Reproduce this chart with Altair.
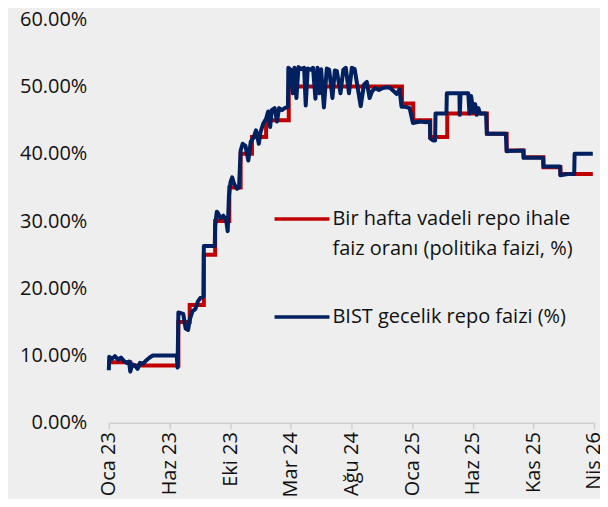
import altair as alt
import pandas as pd

MONTHS_TR = ["Oca", "Şub", "Mar", "Nis", "May", "Haz", "Tem", "Ağu", "Eyl", "Eki", "Kas", "Ara"]

POLICY_DATES = ["2023-01-02", "2023-02-24", "2023-06-23", "2023-07-21", "2023-08-25", "2023-09-22",
                "2023-10-27", "2023-11-24", "2023-12-22", "2024-01-26", "2024-03-22", "2024-12-27",
                "2025-01-24", "2025-03-07", "2025-04-18", "2025-07-25", "2025-09-12", "2025-10-24",
                "2025-12-12", "2026-01-23", "2026-04-13"]
POLICY_RATES = [9.0, 8.5, 15.0, 17.5, 25.0, 30.0, 35.0, 40.0, 42.5, 45.0, 50.0, 47.5,
                45.0, 42.5, 46.0, 43.0, 40.5, 39.5, 38.0, 37.0, 37.0]

BIST_DATES = [
    "2023-01-02", "2023-01-03", "2023-01-10", "2023-01-17", "2023-01-25", "2023-02-01", "2023-02-08",
    "2023-02-15", "2023-02-21", "2023-02-24", "2023-03-01", "2023-03-08", "2023-03-14", "2023-03-20",
    "2023-03-28", "2023-04-05", "2023-04-13", "2023-04-21", "2023-06-19", "2023-06-21", "2023-06-23",
    "2023-07-05", "2023-07-11", "2023-07-17", "2023-07-21", "2023-07-28", "2023-08-04", "2023-08-10",
    "2023-08-17", "2023-08-24", "2023-08-25", "2023-09-21", "2023-09-22", "2023-09-26", "2023-09-29",
    "2023-10-05", "2023-10-12", "2023-10-19", "2023-10-23", "2023-10-26", "2023-10-30", "2023-11-03",
    "2023-11-08", "2023-11-15", "2023-11-20", "2023-11-24", "2023-11-29", "2023-12-06", "2023-12-13",
    "2023-12-19", "2023-12-26", "2024-01-01", "2024-01-08", "2024-01-12", "2024-01-19", "2024-01-26",
    "2024-01-31", "2024-02-05", "2024-02-09", "2024-02-16", "2024-02-22", "2024-02-27", "2024-03-05",
    "2024-03-12", "2024-03-20", "2024-03-21", "2024-03-27", "2024-04-01", "2024-04-05", "2024-04-10",
    "2024-04-15", "2024-04-22", "2024-04-29", "2024-05-03", "2024-05-08", "2024-05-15", "2024-05-21",
    "2024-05-27", "2024-06-01", "2024-06-06", "2024-06-10", "2024-06-17", "2024-06-24", "2024-06-30",
    "2024-07-08", "2024-07-14", "2024-07-19", "2024-07-28", "2024-08-04", "2024-08-10", "2024-08-18",
    "2024-08-25", "2024-09-01", "2024-09-08", "2024-09-16", "2024-09-24", "2024-10-01", "2024-10-08",
    "2024-10-14", "2024-10-22", "2024-10-31", "2024-11-10", "2024-11-20", "2024-11-28", "2024-12-05",
    "2024-12-14", "2024-12-21", "2024-12-26", "2025-01-05", "2025-01-15", "2025-01-23", "2025-02-10",
    "2025-02-25", "2025-03-06", "2025-03-07", "2025-03-14", "2025-03-19", "2025-03-20", "2025-04-16",
    "2025-04-17", "2025-05-18", "2025-05-19", "2025-05-21", "2025-06-09", "2025-06-12", "2025-06-16",
    "2025-06-22", "2025-06-26", "2025-06-30", "2025-07-04", "2025-07-08", "2025-07-23", "2025-07-25",
    "2025-09-10", "2025-09-12", "2025-10-23", "2025-10-24", "2025-12-11", "2025-12-12", "2026-01-22",
    "2026-01-23", "2026-02-10", "2026-02-26", "2026-02-27", "2026-04-13"]
BIST_RATES = [
    7.8, 9.8, 9.5, 9.9, 9.4, 9.7, 9.2,
    8.9, 9.1, 7.6, 8.7, 8.5, 8.0, 8.9,
    8.8, 9.3, 9.7, 10.0, 10.0, 8.2, 16.4,
    16.2, 14.0, 13.8, 15.3, 16.6, 16.9, 18.0,
    18.6, 18.8, 26.3, 26.3, 29.3, 31.4, 31.2,
    30.4, 30.8, 30.2, 28.5, 33.7, 35.8, 36.5,
    35.5, 34.8, 35.0, 40.5, 41.5, 41.2, 39.0,
    41.8, 42.4, 43.5, 41.5, 43.2, 44.5, 45.2,
    46.3, 44.0, 46.5, 46.8, 44.8, 46.8, 46.5,
    46.8, 47.0, 52.8, 52.5, 49.0, 52.8, 48.3,
    52.9, 52.6, 52.8, 47.2, 52.7, 52.5, 52.8,
    48.2, 52.8, 49.0, 52.6, 46.9, 52.7, 52.5,
    48.3, 52.4, 52.3, 49.0, 52.5, 52.8, 49.0,
    52.8, 52.6, 50.0, 47.1, 50.3, 50.7, 48.3,
    49.3, 49.8, 49.5, 49.8, 49.9, 49.8, 49.4,
    48.9, 49.6, 47.0, 47.0, 46.8, 44.6, 44.8,
    44.7, 44.8, 42.3, 42.0, 42.0, 46.0, 46.0,
    49.0, 49.0, 45.8, 49.0, 49.0, 46.0, 48.6,
    46.2, 47.4, 45.8, 46.8, 46.0, 46.0, 43.0,
    43.0, 40.4, 40.5, 39.4, 39.4, 38.1, 38.1,
    36.8, 37.0, 37.0, 40.0, 40.0]

X_TICK_DATES = ["2023-01-02", "2023-06-01", "2023-10-29", "2024-03-27", "2024-08-24",
                "2025-01-21", "2025-06-20", "2025-11-17", "2026-04-16"]
X_DOMAIN = ["2023-01-02", "2026-04-16"]
Y_TICKS = [0, 10, 20, 30, 40, 50, 60]

LEGEND_POLICY = ["Bir hafta vadeli repo ihale", "faiz oranı (politika faizi, %)"]
LEGEND_BIST = "BIST gecelik repo faizi (%)"

RED = "#c00000"
BLUE = "#002060"
FONT = "Open Sans"
FS = 20


def dt(s):
    y, m, d = (int(v) for v in s.split("-"))
    return alt.DateTime(year=y, month=m, date=d, utc=True)


policy_df = pd.DataFrame({"date": POLICY_DATES, "rate": POLICY_RATES})
bist_df = pd.DataFrame({"date": BIST_DATES, "rate": BIST_RATES})

months_js = "[" + ",".join("'" + m + "'" for m in MONTHS_TR) + "]"
x_axis = alt.Axis(
    values=[dt(s) for s in X_TICK_DATES],
    labelExpr=months_js + "[utcmonth(datum.value)] + ' ' + utcFormat(datum.value, '%y')",
    labelAngle=-90, labelFont=FONT, labelFontSize=FS, labelColor="#111111",
    domainColor="#d0d0d0", domainWidth=1.5, tickColor="#d0d0d0", tickWidth=1.5, tickSize=6,
    labelPadding=3, grid=False, title=None, labelOverlap=False, labelFlush=False,
)
y_axis = alt.Axis(
    values=Y_TICKS, labelExpr="format(datum.value / 100, '.2%')",
    labelFont=FONT, labelFontSize=FS, labelColor="#111111", labelPadding=22,
    domain=False, ticks=False, grid=False, title=None,
)
x_enc = alt.X("date:T", scale=alt.Scale(type="utc", domain=[dt(s) for s in X_DOMAIN]), axis=x_axis)
y_enc = alt.Y("rate:Q", scale=alt.Scale(domain=[0, 60], nice=False), axis=y_axis)

red_line = alt.Chart(policy_df).mark_line(color=RED, strokeWidth=4, interpolate="step-after").encode(x=x_enc, y=y_enc)
blue_line = alt.Chart(bist_df).mark_line(color=BLUE, strokeWidth=4, strokeJoin="round").encode(x=x_enc, y=y_enc)

one = pd.DataFrame({"k": [0]})
leg_red = alt.Chart(one).mark_rule(color=RED, strokeWidth=3.5).encode(
    x=alt.value(166), x2=alt.value(221), y=alt.value(200))
leg_blue = alt.Chart(one).mark_rule(color=BLUE, strokeWidth=3.5).encode(
    x=alt.value(166), x2=alt.value(221), y=alt.value(298))
txt_kw = dict(align="left", baseline="middle", font=FONT, fontSize=FS, color="#111111")
leg_t1 = alt.Chart(one).mark_text(text=LEGEND_POLICY[0], **txt_kw).encode(x=alt.value(224), y=alt.value(200))
leg_t2 = alt.Chart(one).mark_text(text=LEGEND_POLICY[1], **txt_kw).encode(x=alt.value(224), y=alt.value(230))
leg_t3 = alt.Chart(one).mark_text(text=LEGEND_BIST, **txt_kw).encode(x=alt.value(224), y=alt.value(298))

chart = alt.layer(red_line, blue_line, leg_red, leg_blue, leg_t1, leg_t2, leg_t3).properties(
    width=486, height=404,
    padding={"left": 101, "top": 11, "right": 6, "bottom": 76},
    autosize=alt.AutoSizeParams(type="none"),
    background="#eeeeee",
).configure_view(stroke=None)

chart.save("out.html", embed_options={"renderer": "svg", "actions": False})
